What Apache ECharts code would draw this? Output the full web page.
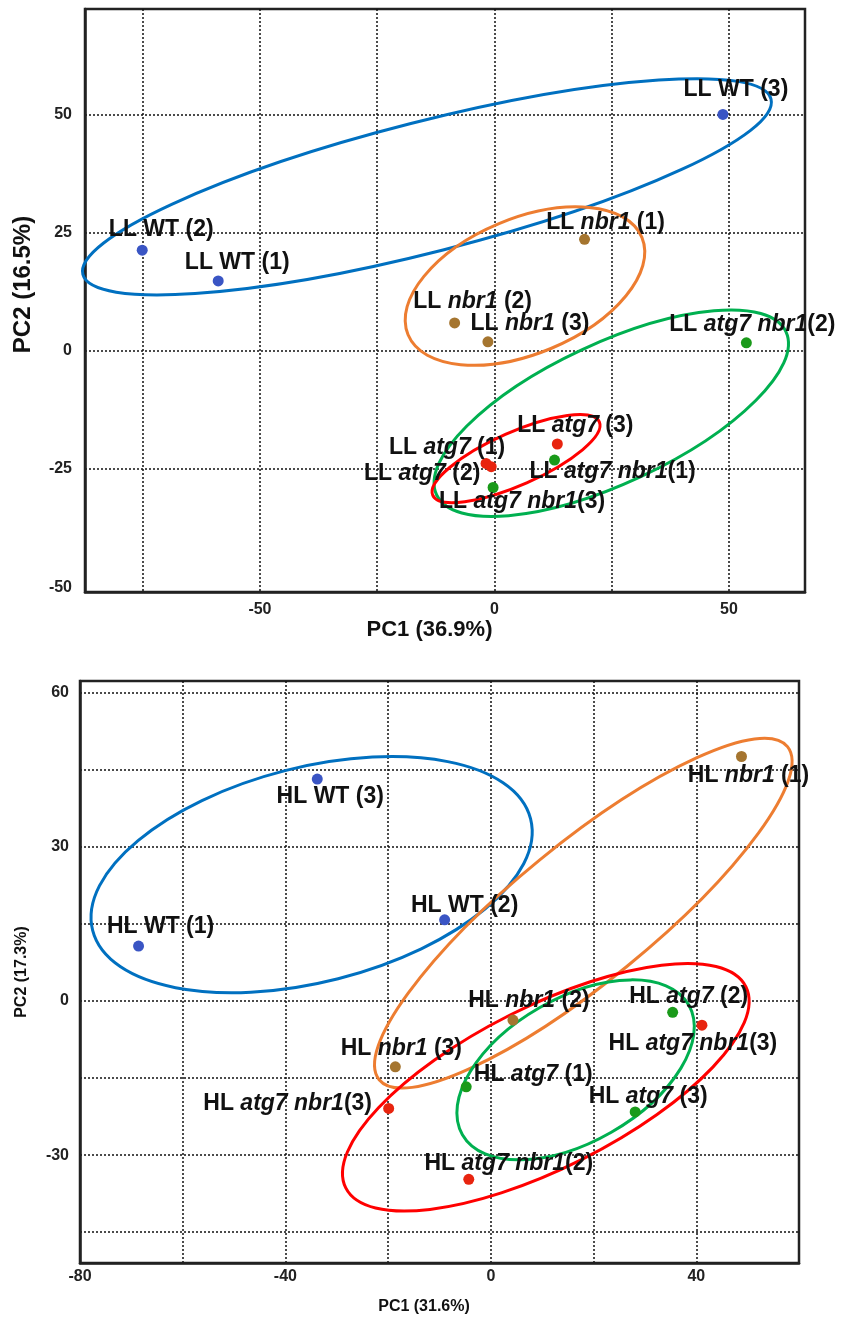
<!DOCTYPE html>
<html>
<head>
<meta charset="utf-8">
<script src="https://cdn.jsdelivr.net/npm/echarts@6/dist/echarts.min.js"></script>
<style>
  html, body { margin: 0; padding: 0; background: #fff; }
  #chart { width: 841px; height: 1318px; }
</style>
</head>
<body>
<div id="chart"></div>
<script>
// ---- LL panel (top) ----
const llGenotype = ["WT", "WT", "WT", "nbr1", "nbr1", "nbr1", "atg7", "atg7", "atg7", "atg7 nbr1", "atg7 nbr1", "atg7 nbr1"];
const llRep = ["1", "2", "3", "1", "2", "3", "1", "2", "3", "1", "2", "3"];
const llPC1 = [-58.9, -75.1, 48.7, 19.2, -8.5, -1.4, -1.8, -0.7, 13.4, 12.8, 53.7, -0.3];
const llPC2 = [14.8, 21.3, 50.0, 23.6, 5.9, 1.9, -23.8, -24.5, -19.7, -23.1, 1.7, -28.9];
// ellipse: [centre PC1, centre PC2, semi-axis a, semi-axis b, angle deg]
const llEllipseGroup = ["WT", "nbr1", "atg7 nbr1", "atg7"];
const llEllipse = [
  [-14.4, 34.7, 75.7, 13.8, 14.3],
  [6.5, 13.7, 27.0, 14.3, 22.6],
  [24.9, -13.2, 41.1, 14.8, 25.0],
  [4.6, -22.8, 19.4, 5.6, 23.8]
];
const llXTicks = [-75, -50, -25, 0, 25, 50];
const llXLabels = [-50, 0, 50];
const llYTicks = [-25, 0, 25, 50];
const llYLabels = [-50, -25, 0, 25, 50];

// ---- HL panel (bottom) ----
const hlGenotype = ["WT", "WT", "WT", "nbr1", "nbr1", "nbr1", "atg7", "atg7", "atg7", "atg7 nbr1", "atg7 nbr1", "atg7 nbr1"];
const hlRep = ["1", "2", "3", "1", "2", "3", "1", "2", "3", "2", "3", "3"];
const hlPC1 = [-68.6, -9.0, -33.8, 48.8, 4.3, -18.6, -4.8, 35.4, 28.1, -4.3, -19.9, 41.1];
const hlPC2 = [10.7, 15.8, 43.2, 47.6, -3.7, -12.8, -16.7, -2.2, -21.6, -34.7, -20.9, -4.7];
const hlEllipseGroup = ["WT", "nbr1", "atg7 nbr1", "atg7"];
const hlEllipse = [
  [-34.9, 24.6, 44.0, 20.9, 14.3],
  [18.0, 17.1, 51.3, 13.4, 39.2],
  [10.7, -16.8, 43.6, 15.7, 26.7],
  [16.5, -13.4, 25.4, 14.0, 29.8]
];
const hlXTicks = [-60, -40, -20, 0, 20, 40];
const hlXLabels = [-80, -40, 0, 40];
const hlYTicks = [-45, -30, -15, 0, 15, 30, 45, 60];
const hlYLabels = [-30, 0, 30, 60];

// ---- layout / styles ----
const llLabelOffset = [[19, -18], [19, -20], [13, -25], [21, -17], [18, -21], [42, -18],
  [-39, -16], [-69, 7], [18, -18], [58, 12], [6, -18], [29, 14]];
const hlLabelOffset = [[22, -19], [20, -14], [13, 18], [7, 19], [16, -19], [6, -18],
  [67, -12], [16, -16], [13, -15], [40, -16], [-101, -5], [-9, 18]];

const dotColor = {
  LL: { "WT": "#3a55c4", "nbr1": "#a5752f", "atg7": "#e8240f", "atg7 nbr1": "#1a9a1a" },
  HL: { "WT": "#3a55c4", "nbr1": "#a5752f", "atg7": "#1a9a1a", "atg7 nbr1": "#e8240f" }
};
const ringColor = {
  LL: { "WT": "#0070c0", "nbr1": "#ed7d31", "atg7": "#ff0000", "atg7 nbr1": "#00b050" },
  HL: { "WT": "#0070c0", "nbr1": "#ed7d31", "atg7": "#00b050", "atg7 nbr1": "#ff0000" }
};
const FONT = "'Liberation Sans', Arial, sans-serif";

function labelText(prefix, geno, rep) {
  if (geno === "WT") return "{b|" + prefix + " WT (" + rep + ")}";
  const sep = geno === "atg7 nbr1" ? "" : " ";
  return "{b|" + prefix + " }{i|" + geno + "}{b|" + sep + "(" + rep + ")}";
}

function pointSeries(panel, idx, genotype, reps, pc1, pc2, offsets) {
  const groups = ["WT", "nbr1", "atg7", "atg7 nbr1"];
  return groups.map(g => ({
    type: "scatter",
    xAxisIndex: idx,
    yAxisIndex: idx,
    symbolSize: 11,
    z: 5,
    itemStyle: { color: dotColor[panel][g], opacity: 1 },
    data: genotype.map((gg, i) => gg !== g ? null : {
      value: [pc1[i], pc2[i]],
      label: {
        show: true,
        position: "inside",
        offset: offsets[i],
        formatter: labelText(panel, gg, reps[i])
      }
    }).filter(d => d),
    label: {
      color: "#111",
      rich: {
        b: { fontFamily: FONT, fontSize: 23, fontWeight: "bold", color: "#111" },
        i: { fontFamily: FONT, fontSize: 23, fontWeight: "bold", fontStyle: "italic", color: "#111" }
      }
    },
    emphasis: { disabled: true }
  }));
}

function ellipseSeries(panel, idx, groups, params) {
  return {
    type: "custom",
    xAxisIndex: idx,
    yAxisIndex: idx,
    z: 2,
    silent: true,
    encode: { x: 0, y: 1 },
    data: params.map((p, i) => ({ value: p, name: groups[i] })),
    renderItem: function (prm, api) {
      const c = api.coord([api.value(0), api.value(1)]);
      const rx = api.size([api.value(2), 0])[0];
      const ry = api.size([0, api.value(3)])[1];
      return {
        type: "ellipse",
        x: c[0],
        y: c[1],
        rotation: api.value(4) * Math.PI / 180,
        shape: { cx: 0, cy: 0, rx: rx, ry: ry },
        style: { fill: "none", stroke: ringColor[panel][groups[prm.dataIndex]], lineWidth: 3 }
      };
    }
  };
}

const gridLine = { show: true, lineStyle: { color: "#111", width: 1.5, type: [2, 2] } };
const axisLine = { show: true, onZero: false, lineStyle: { color: "#222", width: 2.5 } };
const tickLabel = { fontFamily: FONT, fontSize: 16, fontWeight: "bold", color: "#222" };

const chart = echarts.init(document.getElementById("chart"));
chart.setOption({
  animation: false,
  backgroundColor: "#fff",
  grid: [
    { left: 85, top: 9, width: 720, height: 583, show: true, borderColor: "#222", borderWidth: 2.5 },
    { left: 80, top: 681, width: 719, height: 582, show: true, borderColor: "#222", borderWidth: 2.5 }
  ],
  xAxis: [
    {
      gridIndex: 0, type: "value", min: -87.3, max: 66.2,
      axisLine: axisLine, splitLine: gridLine,
      axisTick: { show: false, customValues: llXTicks },
      axisLabel: Object.assign({ customValues: llXLabels, margin: 10 }, tickLabel),
      name: "PC1 (36.9%)", nameLocation: "middle", nameGap: 26,
      nameTextStyle: { fontFamily: FONT, fontSize: 22, fontWeight: "bold", color: "#111", padding: [0, 31, 0, 0] }
    },
    {
      gridIndex: 1, type: "value", min: -80, max: 60,
      axisLine: axisLine, splitLine: gridLine,
      axisTick: { show: false, customValues: hlXTicks },
      axisLabel: Object.assign({ customValues: hlXLabels, margin: 6 }, tickLabel),
      name: "PC1 (31.6%)", nameLocation: "middle", nameGap: 36,
      nameTextStyle: { fontFamily: FONT, fontSize: 16, fontWeight: "bold", color: "#111", padding: [0, 31, 0, 0] }
    }
  ],
  yAxis: [
    {
      gridIndex: 0, type: "value", min: -51, max: 72.3,
      axisLine: axisLine, splitLine: gridLine,
      axisTick: { show: false, customValues: llYTicks },
      axisLabel: Object.assign({ customValues: llYLabels, margin: 13 }, tickLabel),
      name: "PC2 (16.5%)", nameLocation: "middle", nameGap: 50,
      nameTextStyle: { fontFamily: FONT, fontSize: 24, fontWeight: "bold", color: "#111", padding: [0, 0, 0, 32] }
    },
    {
      gridIndex: 1, type: "value", min: -51, max: 62.3,
      axisLine: axisLine, splitLine: gridLine,
      axisTick: { show: false, customValues: hlYTicks },
      axisLabel: Object.assign({ customValues: hlYLabels, margin: 11 }, tickLabel),
      name: "PC2 (17.3%)", nameLocation: "middle", nameGap: 50,
      nameTextStyle: { fontFamily: FONT, fontSize: 16, fontWeight: "bold", color: "#111" }
    }
  ],
  series: [
    ellipseSeries("LL", 0, llEllipseGroup, llEllipse),
    ellipseSeries("HL", 1, hlEllipseGroup, hlEllipse)
  ].concat(
    pointSeries("LL", 0, llGenotype, llRep, llPC1, llPC2, llLabelOffset),
    pointSeries("HL", 1, hlGenotype, hlRep, hlPC1, hlPC2, hlLabelOffset)
  )
});
</script>
</body>
</html>
